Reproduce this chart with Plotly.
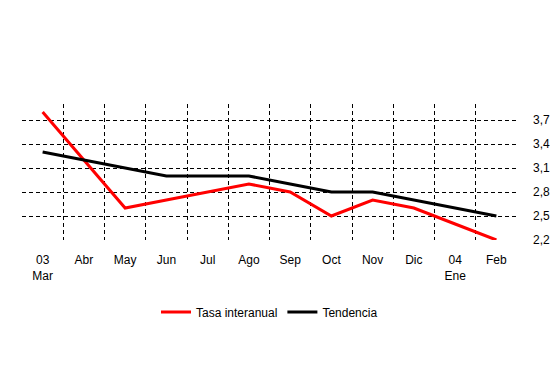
import plotly.graph_objects as go

categories = ["03<br>Mar", "Abr", "May", "Jun", "Jul", "Ago", "Sep", "Oct", "Nov", "Dic", "04<br>Ene", "Feb"]
tasa_interanual = [3.8, 3.2, 2.6, 2.7, 2.8, 2.9, 2.8, 2.5, 2.7, 2.6, 2.4, 2.2]
tendencia = [3.3, 3.2, 3.1, 3.0, 3.0, 3.0, 2.9, 2.8, 2.8, 2.7, 2.6, 2.5]
y_ticks = [2.2, 2.5, 2.8, 3.1, 3.4, 3.7]
grid_y = [2.5, 2.8, 3.1, 3.4, 3.7]

idx = list(range(len(categories)))
grid_x = [i + 0.5 for i in idx[:-1]]

fig = go.Figure()
fig.add_trace(go.Scatter(x=idx, y=tasa_interanual, mode="lines", name="Tasa interanual",
                         line=dict(color="#ff0000", width=3)))
fig.add_trace(go.Scatter(x=idx, y=tendencia, mode="lines", name="Tendencia",
                         line=dict(color="#000000", width=3)))
# invisible trace for grid axes
fig.add_trace(go.Scatter(x=[0], y=[2.5], xaxis="x2", yaxis="y2", mode="markers",
                         marker=dict(opacity=0), showlegend=False, hoverinfo="skip"))

xr = [-0.5, 11.5]
yr = [2.2, 3.9]
gd = "4px,3px"

# page body has an 8px margin, so the figure is 8px smaller and margins shifted
fig.update_layout(
    width=552, height=366,
    margin=dict(l=14, r=43, t=96, b=134),
    paper_bgcolor="white", plot_bgcolor="white",
    separators=",.",
    font=dict(family="Liberation Sans, Arial, sans-serif", size=12, color="black"),
    xaxis=dict(range=xr, tickvals=idx, ticktext=categories, showgrid=False, zeroline=False,
               showline=False, ticks="", ticklabelstandoff=11, automargin=False),
    yaxis=dict(range=yr, tickvals=y_ticks, tickformat=".1f", side="right", showgrid=False,
               zeroline=False, showline=False, ticks="", ticklabelstandoff=15, automargin=False),
    xaxis2=dict(range=xr, overlaying="x", tickvals=grid_x, showgrid=True, griddash=gd,
                gridcolor="black", gridwidth=1, showticklabels=False, zeroline=False, ticks="",
                automargin=False),
    yaxis2=dict(range=yr, overlaying="y", tickvals=grid_y, showgrid=True, griddash=gd,
                gridcolor="black", gridwidth=1, showticklabels=False, zeroline=False, ticks="",
                automargin=False),
    legend=dict(orientation="h", x=0.5, xanchor="center", y=-0.53, yanchor="middle",
                font=dict(size=12), itemwidth=30, bgcolor="rgba(0,0,0,0)"),
    showlegend=True,
)

fig.write_html("out.html")
